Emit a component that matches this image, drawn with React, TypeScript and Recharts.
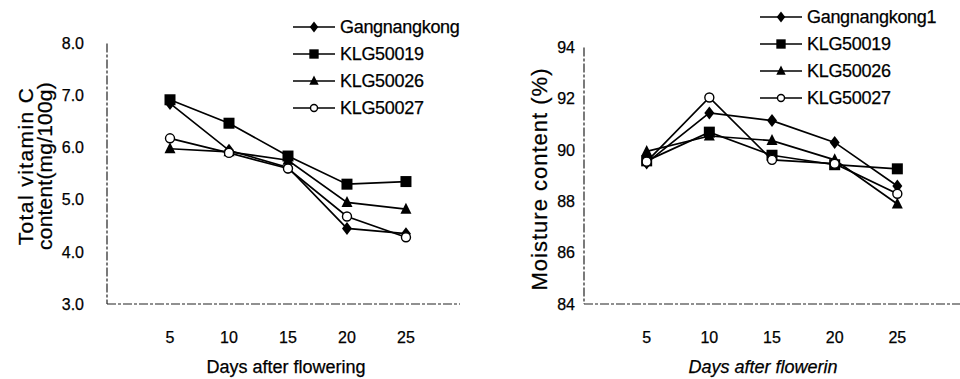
import React from 'react'
import { LineChart, Line, XAxis, YAxis, Legend } from 'recharts'

const FONT = '"Liberation Sans", Arial, Helvetica, sans-serif'

// days after flowering
const days = [5, 10, 15, 20, 25]

// left panel: total vitamin C (mg/100g)
const vitaminNames = ['Gangnangkong', 'KLG50019', 'KLG50026', 'KLG50027']
const vcGangnangkong = [6.85, 5.95, 5.62, 4.45, 4.35]
const vcKLG50019 = [6.92, 6.47, 5.84, 5.3, 5.35]
const vcKLG50026 = [5.98, 5.92, 5.76, 4.95, 4.82]
const vcKLG50027 = [6.18, 5.9, 5.6, 4.68, 4.28]
const vitaminTicks = [3, 4, 5, 6, 7, 8]

// right panel: moisture content (%)
const moistureNames = ['Gangnangkong1', 'KLG50019', 'KLG50026', 'KLG50027']
const mcGangnangkong1 = [89.5, 91.45, 91.15, 90.3, 88.6]
const mcKLG50019 = [89.58, 90.7, 89.8, 89.43, 89.27]
const mcKLG50026 = [89.95, 90.55, 90.37, 89.62, 87.9]
const mcKLG50027 = [89.55, 92.05, 89.62, 89.47, 88.3]
const moistureTicks = [84, 86, 88, 90, 92, 94]

const shapes = ['diamond', 'square', 'triangle', 'circle']
const seriesKeys = ['s0', 's1', 's2', 's3']

const vitaminData = days.map((d, i) => ({
  day: d,
  s0: vcGangnangkong[i],
  s1: vcKLG50019[i],
  s2: vcKLG50026[i],
  s3: vcKLG50027[i],
}))

const moistureData = days.map((d, i) => ({
  day: d,
  s0: mcGangnangkong1[i],
  s1: mcKLG50019[i],
  s2: mcKLG50026[i],
  s3: mcKLG50027[i],
}))

const axisLine = { stroke: '#222', strokeWidth: 1.2, strokeDasharray: '9 2 3 2' }
// a thin stroke on the text mimics the heavier scanned type
const tickStyle = { fontSize: 16, fill: '#000', fontFamily: FONT, stroke: '#000', strokeWidth: 0.25 }

function Marker({ shape, cx, cy, small }: any) {
  if (cx == null || cy == null) return null
  const s = small ? 0.85 : 1
  switch (shape) {
    case 'diamond':
      return <path d={`M${cx},${cy - 6.5 * s}L${cx + 5 * s},${cy}L${cx},${cy + 6.5 * s}L${cx - 5 * s},${cy}Z`} fill="#000" />
    case 'square':
      return <rect x={cx - 5.5 * s} y={cy - 5.5 * s} width={11 * s} height={11 * s} fill="#000" />
    case 'triangle':
      return <path d={`M${cx},${cy - 6.5 * s}L${cx + 5.5 * s},${cy + 4.5 * s}L${cx - 5.5 * s},${cy + 4.5 * s}Z`} fill="#000" />
    default:
      return <circle cx={cx} cy={cy} r={small ? 3.5 : 4.5} fill="#fff" stroke="#000" strokeWidth={1.4} />
  }
}

const makeLegend = (names: string[]) => () => (
  <div style={{ fontFamily: FONT }}>
    {names.map((n, i) => (
      <div key={n} style={{ display: 'flex', alignItems: 'center', height: 27 }}>
        <svg width={42} height={20} style={{ display: 'block' }}>
          <line x1={0} y1={10} x2={42} y2={10} stroke="#000" strokeWidth={1.6} />
          <Marker shape={shapes[i]} cx={21} cy={10} small />
        </svg>
        <span style={{ marginLeft: 5, fontSize: 18, color: '#000', lineHeight: '20px', letterSpacing: -0.3, whiteSpace: 'nowrap', WebkitTextStroke: '0.25px #000' }}>{n}</span>
      </div>
    ))}
  </div>
)

// rotated y title, one or two lines; px = baseline x of each line
function VTitle({ lines, px, py, size, spacing }: any) {
  return (
    <g>
      {lines.map((t: string, i: number) => (
        <text key={i} x={px[i]} y={py} transform={`rotate(-90 ${px[i]} ${py})`} textAnchor="middle"
          fontSize={size} fontFamily={FONT} fill="#000" stroke="#000" strokeWidth={0.25} letterSpacing={spacing ? spacing[i] : 0}>
          {t}
        </text>
      ))}
    </g>
  )
}

function HTitle({ text, px, py, size, italic }: any) {
  return (
    <text x={px} y={py} textAnchor="middle" fontSize={size} fontFamily={FONT} fill="#000" stroke="#000" strokeWidth={0.25}
      fontStyle={italic ? 'italic' : 'normal'}>
      {text}
    </text>
  )
}

function renderLines(names: string[]) {
  return seriesKeys.map((k, i) => (
    <Line key={k} type="linear" dataKey={k} name={names[i]} stroke="#000" strokeWidth={1.7}
      isAnimationActive={false} legendType="none"
      dot={(p: any) => <Marker key={`${k}-${p.index}`} shape={shapes[i]} cx={p.cx} cy={p.cy} />}
      activeDot={false} />
  ))
}

export default function App() {
  return (
    <div style={{ position: 'absolute', left: 0, top: 0, width: 960, height: 379, background: '#fff', overflow: 'hidden' }}>
      <div style={{ position: 'absolute', left: 0, top: 0 }}>
        <LineChart width={480} height={379} data={vitaminData} margin={{ top: 43.5, right: 20, left: 0, bottom: 0 }}>
          <XAxis dataKey="day" type="number" domain={[-0.34, 29.58]} allowDataOverflow ticks={days}
            height={75} axisLine={axisLine} tickLine={false} tickSize={0} tickMargin={28} tick={tickStyle}
            label={<HTitle text="Days after flowering" px={286} py={373} size={18} />} />
          <YAxis type="number" domain={[3, 8]} ticks={vitaminTicks} width={107} axisLine={axisLine}
            tickLine={false} tickSize={0} tickMargin={23} tick={tickStyle} tickFormatter={(v: number) => v.toFixed(1)}
            label={<VTitle lines={['Total vitamin C', 'content(mg/100g)']} px={[33, 52]} py={166} size={21} spacing={[1.4, 0.2]} />} />
          <Legend layout="vertical" align="center" verticalAlign="middle" content={makeLegend(vitaminNames)}
            wrapperStyle={{ left: 293, top: 13.5, width: 190, height: 110 }} />
          {renderLines(vitaminNames)}
        </LineChart>
      </div>
      <div style={{ position: 'absolute', left: 480, top: 0 }}>
        <LineChart width={480} height={379} data={moistureData} margin={{ top: 47.5, right: 0, left: 0, bottom: 0 }}>
          <XAxis dataKey="day" type="number" domain={[0, 30]} allowDataOverflow ticks={days}
            height={75} axisLine={axisLine} tickLine={false} tickSize={0} tickMargin={28} tick={tickStyle}
            label={<HTitle text="Days after flowerin" px={283} py={373} size={18} italic />} />
          <YAxis type="number" domain={[84, 94]} ticks={moistureTicks} width={104} axisLine={axisLine}
            tickLine={false} tickSize={0} tickMargin={9} tick={tickStyle}
            label={<VTitle lines={['Moisture content (%)']} px={[67]} py={179} size={22} spacing={[1]} />} />
          <Legend layout="vertical" align="center" verticalAlign="middle" content={makeLegend(moistureNames)}
            wrapperStyle={{ left: 280, top: 3.5, width: 200, height: 110 }} />
          {renderLines(moistureNames)}
        </LineChart>
      </div>
    </div>
  )
}
